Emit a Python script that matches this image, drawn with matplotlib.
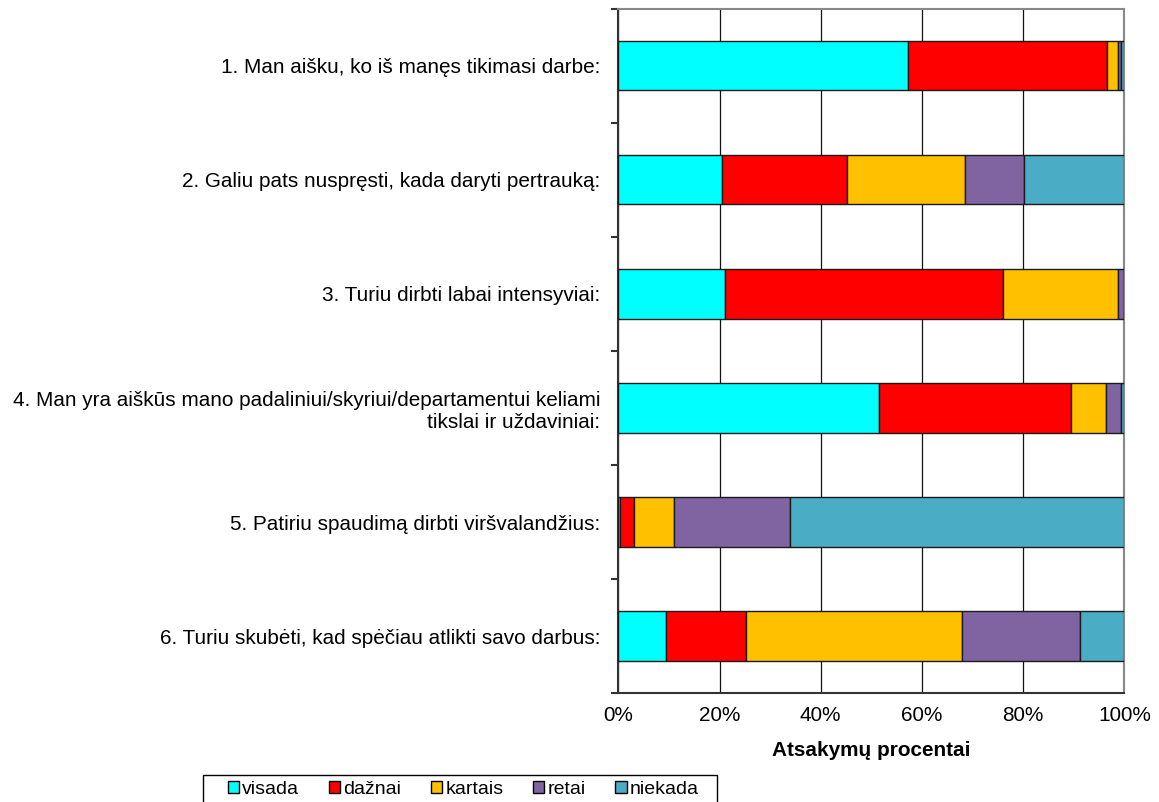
import matplotlib.pyplot as plt
from matplotlib.patches import Patch, Rectangle
from matplotlib.ticker import FixedLocator, PercentFormatter

plt.rcParams["font.family"] = ["Liberation Sans", "DejaVu Sans"]

questions = [
    "1. Man aišku, ko iš manęs tikimasi darbe:",
    "2. Galiu pats nuspręsti, kada daryti pertrauką:",
    "3. Turiu dirbti labai intensyviai:",
    "4. Man yra aiškūs mano padaliniui/skyriui/departamentui keliami\ntikslai ir uždaviniai:",
    "5. Patiriu spaudimą dirbti viršvalandžius:",
    "6. Turiu skubėti, kad spėčiau atlikti savo darbus:",
]

answers = ["visada", "dažnai", "kartais", "retai", "niekada"]

# percent of answers per question, in the order of `answers`
visada = [57.3, 20.5, 21.1, 51.5, 0.4, 9.4]
daznai = [39.2, 24.6, 55.0, 38.0, 2.6, 15.8]
kartais = [2.3, 23.4, 22.7, 6.9, 8.1, 42.7]
retai = [0.5, 11.6, 1.2, 3.0, 22.9, 23.4]
niekada = [0.7, 19.9, 0.0, 0.6, 66.0, 8.7]

colors = ["#00FFFF", "#FF0000", "#FFC000", "#8064A2", "#4BACC6"]

fs = 14.95

fig = plt.figure(figsize=(11.59, 8.02), dpi=100)
ax = fig.add_axes([0.5335, 0.1359, 0.4366, 0.8529])

ypos = list(range(len(questions)))
left = [0.0] * len(questions)
for name, vals, col in zip(answers, [visada, daznai, kartais, retai, niekada], colors):
    ax.barh(ypos, vals, left=left, height=0.43, color=col,
            edgecolor="#1a1a1a", linewidth=1.0, zorder=3, label=name)
    left = [a + b for a, b in zip(left, vals)]

ax.set_xlim(0, 100)
ax.set_ylim(len(questions) - 0.5, -0.5)

ax.set_xticks([0, 20, 40, 60, 80, 100])
ax.xaxis.set_major_formatter(PercentFormatter(decimals=0))
ax.tick_params(axis="x", length=0, pad=9, labelsize=fs)
ax.xaxis.grid(True, color="#111111", linewidth=0.9, zorder=0)
ax.set_axisbelow(True)

ax.set_yticks(ypos)
ax.set_yticklabels(questions, fontsize=fs, ha="right", multialignment="right")
ax.yaxis.set_minor_locator(FixedLocator([i - 0.5 for i in range(len(questions) + 1)]))
ax.tick_params(axis="y", which="major", length=0, pad=13)
ax.tick_params(axis="y", which="minor", length=5, width=1.5, color="#333333")

for side in ["left", "bottom"]:
    ax.spines[side].set_color("#333333")
    ax.spines[side].set_linewidth(1.5)
for side in ["top", "right"]:
    ax.spines[side].set_color("#888888")
    ax.spines[side].set_linewidth(1.5)

ax.set_xlabel("Atsakymų procentai", fontsize=fs, fontweight="bold", labelpad=12)

# legend entries without frame, box drawn separately (runs off the bottom edge)
handles = [Patch(facecolor=c, edgecolor="black", linewidth=1.0, label=a)
           for a, c in zip(answers, colors)]
leg = fig.legend(handles=handles, ncol=5, loc="upper left",
                 bbox_to_anchor=(0.197, 0.026), borderaxespad=0, borderpad=0,
                 fontsize=14, handlelength=0.57, handleheight=0.57,
                 handletextpad=0.15, columnspacing=1.54, frameon=False)
fig.patches.append(Rectangle((203 / 1159, -0.05), (717 - 203) / 1159, 0.05 + 1 - 775 / 802,
                             transform=fig.transFigure, fill=False,
                             edgecolor="black", linewidth=1.0))

fig.savefig("out.png", dpi=100)
